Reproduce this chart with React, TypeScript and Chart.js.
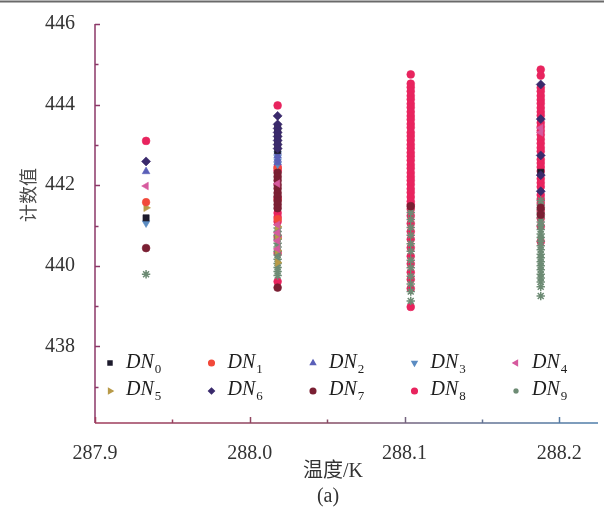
import React, { useEffect, useRef } from 'react';
import { Chart, registerables } from 'chart.js';
import { drawPoint } from 'chart.js/helpers';

Chart.register(...registerables);

// temperatures (K) of the four measurement columns
const temps = [287.933, 288.018, 288.104, 288.188];

const seriesNames = ['DN0', 'DN1', 'DN2', 'DN3', 'DN4', 'DN5', 'DN6', 'DN7', 'DN8', 'DN9'];

// count values per series, one list per temperature column
const dn0 = [[441.19], [443.46, 443.36, 443.27, 443.17, 443.06, 442.97, 442.86], [], [442.32]];
const dn1 = [[441.58], [442.42, 441.64, 441.16], [], []];
const dn2 = [[442.34], [442.82, 442.73, 442.64, 442.56], [], []];
const dn3 = [[441.06], [442.78, 442.69, 442.6, 442.52], [], []];
const dn4 = [[441.98], [442.04, 441.02, 440.82, 440.62, 440.42], [], [443.42, 443.31]];
const dn5 = [[441.44], [440.97, 440.68, 440.38, 440.08], [], []];
const dn6 = [[442.59], [443.72, 443.51, 443.41, 443.31, 443.21, 443.11, 443.01, 442.91], [], [444.5, 443.64, 442.74, 442.25, 441.85]];
const dn7 = [[440.44], [442.31, 442.21, 442.12, 442.01, 441.92, 441.81, 441.72, 441.61, 441.52, 441.43, 439.46], [441.48], [441.44, 441.27]];
const dn8 = [
  [443.1],
  [443.98, 442.45, 442.37, 441.68, 441.31, 441.21, 441.1, 440.72, 440.32, 439.61],
  [444.75, 444.52, 444.43, 444.33, 444.22, 444.13, 444.02, 443.93, 443.82, 443.72, 443.63, 443.52, 443.43, 443.31, 443.22, 443.12, 443.01, 442.92, 442.81, 442.72, 442.62, 442.51, 442.42, 442.31, 442.21, 442.12, 442.02, 441.91, 441.82, 441.71, 441.6, 441.52, 441.41, 441.24, 441.05, 440.85, 440.66, 440.45, 440.24, 440.05, 439.84, 439.66, 439.44, 438.98],
  [444.87, 444.72, 444.42, 444.33, 444.22, 444.12, 444.03, 443.92, 443.82, 443.73, 443.55, 443.45, 443.35, 443.25, 443.14, 443.04, 442.93, 442.84, 442.64, 442.55, 442.45, 442.35, 442.16, 442.06, 441.96, 441.76, 441.66, 441.56, 441.36, 441.18, 440.98, 440.6],
];
const dn9 = [
  [439.79],
  [440.94, 440.85, 440.76, 440.66, 440.56, 440.47, 440.36, 440.27, 440.16, 440.06, 439.96, 439.86, 439.76],
  [441.32, 441.15, 440.95, 440.76, 440.55, 440.36, 440.14, 439.95, 439.74, 439.55, 439.36, 439.13],
  [441.62, 441.51, 441.4, 441.31, 441.2, 441.09, 441.0, 440.9, 440.79, 440.7, 440.61, 440.5, 440.4, 440.29, 440.2, 440.1, 440.0, 439.9, 439.79, 439.7, 439.6, 439.48, 439.25],
];

const seriesValues = [dn0, dn1, dn2, dn3, dn4, dn5, dn6, dn7, dn8, dn9];

const colors = ['#1d1b2c', '#f2493a', '#5a5fb8', '#5b8cc2', '#d65a9e', '#b89a48', '#3a2a6c', '#7a1f33', '#e8245e', '#6d8b74'];
const pointStyles = ['rect', 'circle', 'triangle', 'triangle', 'triangle', 'triangle', 'rectRot', 'circle', 'circle', 'star'];
const rotations = [0, 0, 0, 180, 270, 90, 0, 0, 0, 0];
const radii = [4.4, 3.8, 4.4, 4.4, 4.4, 4.4, 4.5, 3.9, 3.9, 4.2];
const drawOrder = [1, 6, 2, 3, 4, 7, 0, 5, 9, 8];

const isMajorX = (v: number) => Math.abs(v * 10 - Math.round(v * 10)) < 1e-3;

const decorPlugin = {
  id: 'decor',
  afterDraw(chart: any) {
    const ctx = chart.ctx as CanvasRenderingContext2D;
    const { left, right, top, bottom } = chart.chartArea;
    const xs = chart.scales.x;
    const ys = chart.scales.y;
    ctx.save();

    // scan frame line at the very top
    ctx.strokeStyle = '#6a6a6a';
    ctx.lineWidth = 2;
    ctx.beginPath();
    ctx.moveTo(0, 1.5);
    ctx.lineTo(chart.width, 1.5);
    ctx.stroke();

    // y axis
    ctx.strokeStyle = '#8c3868';
    ctx.lineWidth = 1.5;
    ctx.beginPath();
    ctx.moveTo(left, top);
    ctx.lineTo(left, bottom);
    ys.ticks.forEach((t: any) => {
      const py = Math.round(ys.getPixelForValue(t.value)) + 0.5;
      const major = Math.round(t.value) % 2 === 0;
      ctx.moveTo(left, py);
      ctx.lineTo(left + (major ? 5 : 3.5), py);
    });
    ctx.stroke();

    // x axis (colour drifts from red to blue as in the scan)
    const grad = ctx.createLinearGradient(left, 0, right, 0);
    grad.addColorStop(0, '#a03c5c');
    grad.addColorStop(0.45, '#8a4a62');
    grad.addColorStop(0.7, '#6a6f8c');
    grad.addColorStop(1, '#4f7fab');
    ctx.strokeStyle = grad;
    ctx.beginPath();
    ctx.moveTo(left, bottom);
    ctx.lineTo(right, bottom);
    xs.ticks.forEach((t: any) => {
      const px = Math.round(xs.getPixelForValue(t.value)) + 0.5;
      const major = isMajorX(t.value);
      ctx.moveTo(px, bottom);
      ctx.lineTo(px, bottom - (major ? 6 : 3.5));
    });
    ctx.stroke();

    // in-plot legend, two rows of five
    const rowMarkerY = [363, 391];
    const rowBaseY = [368, 395];
    seriesNames.forEach((name, i) => {
      const col = i % 5;
      const row = Math.floor(i / 5);
      const mx = 110 + col * 101.5;
      const tx = 126 + col * 101.5;
      ctx.fillStyle = colors[i];
      ctx.strokeStyle = colors[i];
      drawPoint(ctx, { pointStyle: pointStyles[i], rotation: rotations[i], radius: 2.8, borderWidth: 1 } as any, mx, rowMarkerY[row]);
      const main = name.slice(0, 2);
      const sub = name.slice(2);
      ctx.fillStyle = '#1e1e1e';
      ctx.textAlign = 'left';
      ctx.textBaseline = 'alphabetic';
      ctx.font = "italic 20px 'Liberation Serif'";
      ctx.fillText(main, tx, rowBaseY[row]);
      const w = ctx.measureText(main).width;
      ctx.font = "13px 'Liberation Serif'";
      ctx.fillText(sub, tx + w + 1, rowBaseY[row] + 5);
    });

    // axis titles and panel label
    ctx.fillStyle = '#333';
    ctx.textAlign = 'center';
    ctx.textBaseline = 'middle';
    ctx.font = "20px 'Liberation Serif', 'Noto Sans CJK SC'";
    ctx.fillText('温度/K', 333, 472);
    ctx.fillText('(a)', 328, 497);

    ctx.translate(28, 195);
    ctx.rotate(-Math.PI / 2);
    ctx.fillStyle = '#4a4a4a';
    ctx.font = "18px 'Noto Sans CJK SC'";
    ctx.fillText('计数值', 0, 0);

    ctx.restore();
  },
};

export default function App() {
  const canvasRef = useRef<HTMLCanvasElement | null>(null);

  useEffect(() => {
    if (!canvasRef.current) return;
    const datasets = seriesNames.map((name, i) => ({
      label: name,
      data: seriesValues[i].flatMap((vals, c) => vals.map((y) => ({ x: temps[c], y }))),
      backgroundColor: colors[i],
      borderColor: colors[i],
      borderWidth: pointStyles[i] === 'star' ? 1.5 : 0.6,
      pointStyle: pointStyles[i],
      rotation: rotations[i],
      pointRadius: radii[i],
      order: drawOrder[i],
    }));

    const chart = new Chart(canvasRef.current, {
      type: 'scatter',
      data: { datasets } as any,
      plugins: [decorPlugin],
      options: {
        responsive: false,
        animation: false,
        layout: { padding: { top: 19, right: 6, left: 0, bottom: 0 } },
        plugins: { legend: { display: false }, tooltip: { enabled: false } },
        scales: {
          x: {
            type: 'linear',
            min: 287.9,
            max: 288.225,
            grid: { display: false },
            border: { display: false },
            ticks: {
              stepSize: 0.05,
              includeBounds: false,
              autoSkip: false,
              maxRotation: 0,
              padding: 11,
              color: '#333',
              font: { family: 'Liberation Serif', size: 20 },
              callback: (v: any) => (isMajorX(Number(v)) ? Number(v).toFixed(1) : ''),
            },
            afterFit: (s: any) => {
              s.height = 89;
            },
          },
          y: {
            type: 'linear',
            min: 436.1,
            max: 446,
            grid: { display: false },
            border: { display: false },
            ticks: {
              stepSize: 1,
              includeBounds: false,
              autoSkip: false,
              padding: 12,
              color: '#333',
              font: { family: 'Liberation Serif', size: 20 },
              callback: (v: any) => (Math.round(Number(v)) % 2 === 0 ? String(Math.round(Number(v))) : ''),
            },
            afterFit: (s: any) => {
              s.width = 95;
            },
          },
        },
      } as any,
    });
    return () => chart.destroy();
  }, []);

  return (
    <div style={{ position: 'fixed', left: 0, top: 0, width: 604, height: 512, background: '#fff' }}>
      <canvas ref={canvasRef} width={604} height={512} />
    </div>
  );
}
